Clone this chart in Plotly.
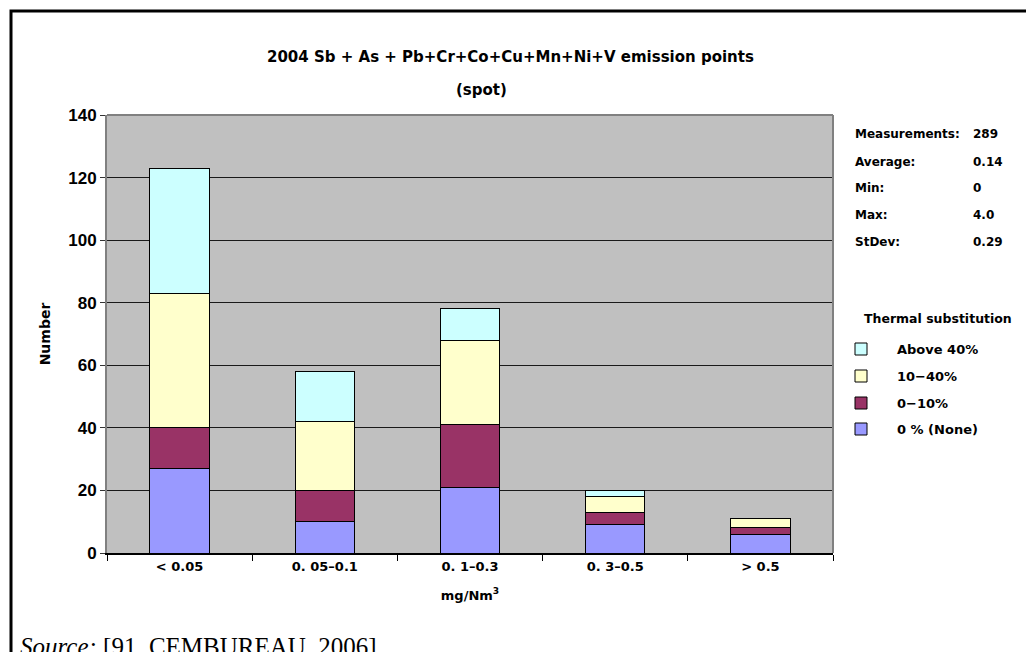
import plotly.graph_objects as go

categories = ["< 0.05", "0. 05\u20130.1", "0. 1\u20130.3", "0. 3\u20130.5", "> 0.5"]
none_0 = [27, 10, 21, 9, 6]
pct_0_10 = [13, 10, 20, 4, 2]
pct_10_40 = [43, 22, 27, 5, 3]
above_40 = [40, 16, 10, 2, 0]

series_names = ["0 % (None)", "0\u221210%", "10\u221240%", "Above 40%"]
series_values = [none_0, pct_0_10, pct_10_40, above_40]
series_colors = ["#9999FF", "#993366", "#FFFFCC", "#CCFFFF"]

stat_labels = ["Measurements:", "Average:", "Min:", "Max:", "StDev:"]
stat_values = ["289", "0.14", "0", "4.0", "0.29"]

W, H = 1026, 652
L, R, T, B = 107, 833, 115, 553

def px(x):
    return (x - L) / (R - L)

def py(y):
    return (B - y) / (B - T)

FONT = "DejaVu Sans, Verdana, sans-serif"
NARROW = "Liberation Sans, Arial, sans-serif"

fig = go.Figure()
for name, vals, col in zip(series_names, series_values, series_colors):
    fig.add_trace(go.Bar(
        x=categories, y=vals, name=name,
        marker=dict(color=col, line=dict(color="black", width=1)),
        width=0.41, showlegend=False,
    ))

fig.update_layout(
    width=W, height=H, barmode="stack",
    margin=dict(l=L, r=W - R, t=T, b=H - B),
    paper_bgcolor="white", plot_bgcolor="#C0C0C0",
    font=dict(family=FONT, color="black"),
    bargap=0.59,
)
fig.update_yaxes(
    range=[0, 140], dtick=20, showgrid=True, gridcolor="#1a1a1a", gridwidth=1,
    ticks="outside", ticklen=5, tickcolor="#333", tickwidth=1,
    tickfont=dict(size=17, family=NARROW, weight="bold"),
    showline=True, linecolor="#808080", linewidth=2, zeroline=False,
    title=dict(text="<b>Number</b>", font=dict(size=14, family=FONT), standoff=14),
)
fig.update_xaxes(
    showline=True, linecolor="black", linewidth=2,
    ticks="outside", tickson="boundaries", ticklen=6, tickcolor="black",
    tickfont=dict(size=13, family=FONT, weight="bold"),
    title=dict(text="<b>mg/Nm<sup>3</sup></b>", font=dict(size=13, family=FONT), standoff=18),
)

shapes = []
shapes.append(dict(type="line", xref="paper", yref="paper", x0=0, x1=1, y0=1, y1=1,
                   line=dict(color="#808080", width=2)))
shapes.append(dict(type="line", xref="paper", yref="paper", x0=1, x1=1, y0=0, y1=1,
                   line=dict(color="#808080", width=2)))
shapes.append(dict(type="path", xref="paper", yref="paper",
                   path=f"M {px(11)} {py(700)} L {px(11)} {py(11)} L {px(1100)} {py(11)}",
                   line=dict(color="black", width=3)))

annotations = []
annotations.append(dict(text="<b>2004 Sb + As + Pb+Cr+Co+Cu+Mn+Ni+V emission points</b>",
                        x=px(510), y=py(57), xref="paper", yref="paper",
                        showarrow=False, font=dict(size=15), xanchor="center", yanchor="middle"))
annotations.append(dict(text="<b>(spot)</b>", x=px(481), y=py(90), xref="paper", yref="paper",
                        showarrow=False, font=dict(size=15), xanchor="center", yanchor="middle"))

stat_y = [134, 162, 188, 215, 242]
for lab, val, yy in zip(stat_labels, stat_values, stat_y):
    annotations.append(dict(text=f"<b>{lab}</b>", x=px(853), y=py(yy), xref="paper", yref="paper",
                            showarrow=False, font=dict(size=12), xanchor="left", yanchor="middle"))
    annotations.append(dict(text=f"<b>{val}</b>", x=px(971), y=py(yy), xref="paper", yref="paper",
                            showarrow=False, font=dict(size=12), xanchor="left", yanchor="middle"))

annotations.append(dict(text="<b>Thermal substitution</b>", x=px(862), y=py(318), xref="paper",
                        yref="paper", showarrow=False, font=dict(size=12.5), xanchor="left",
                        yanchor="middle"))
leg_y = [349, 376, 403, 429]
leg_order = [3, 2, 1, 0]
for yy, idx in zip(leg_y, leg_order):
    shapes.append(dict(type="rect", xref="paper", yref="paper",
                       x0=px(855), x1=px(867), y0=py(yy - 6), y1=py(yy + 6),
                       fillcolor=series_colors[idx], line=dict(color="black", width=1)))
    annotations.append(dict(text=f"<b>{series_names[idx]}</b>", x=px(895), y=py(yy),
                            xref="paper", yref="paper", showarrow=False, font=dict(size=13),
                            xanchor="left", yanchor="middle"))

annotations.append(dict(text="<i>Source:</i> [91, CEMBUREAU, 2006]", x=px(18), y=py(646),
                        xref="paper", yref="paper", showarrow=False,
                        font=dict(size=25, family="Liberation Serif, Times New Roman, serif"),
                        xanchor="left", yanchor="middle"))

fig.update_layout(shapes=shapes, annotations=annotations)
fig.write_html("out.html", config={"displayModeBar": False},
               post_script="document.body.style.margin='0';document.body.style.overflow='hidden';")
